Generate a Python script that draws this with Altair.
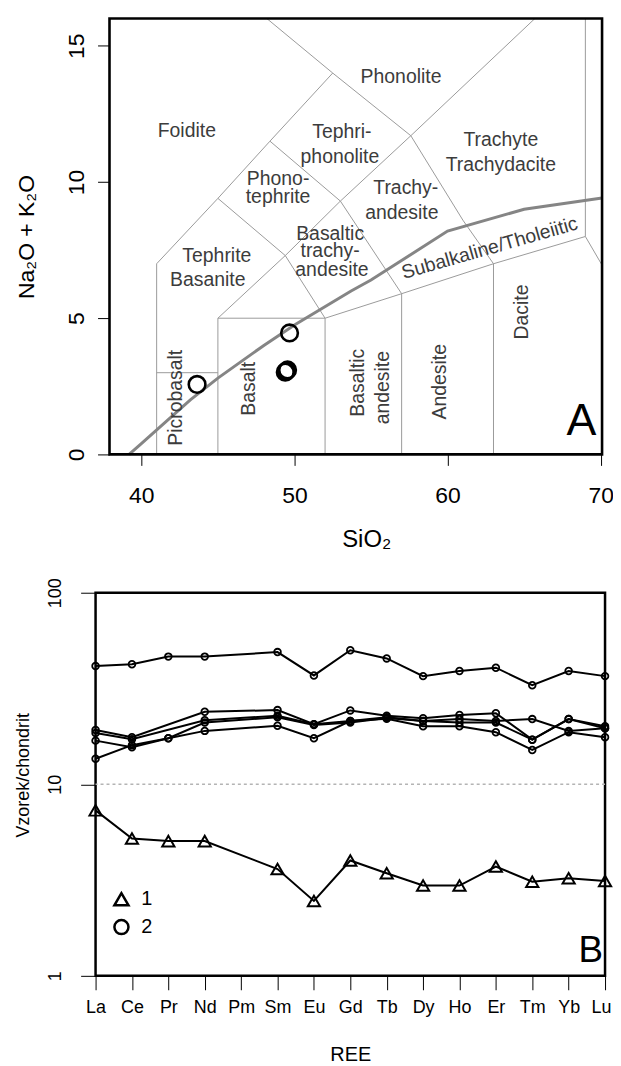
import altair as alt
import pandas as pd

FONT = "Liberation Sans"

# ---------------- Panel A : TAS diagram ----------------
tas_sio2 = [43.64, 49.68, 49.40, 49.55, 49.48]
tas_alk = [2.57, 4.46, 3.02, 3.10, 3.06]

# alkaline / subalkaline divide (thick grey curve)
divide_sio2 = [39.2, 40.0, 43.2, 45.0, 48.0, 50.0, 53.7, 55.0, 60.0, 65.0, 70.09]
divide_alk = [0.0, 0.4, 2.0, 2.8, 4.0, 4.75, 6.0, 6.4, 8.2, 9.0, 9.41]

# field boundaries (polylines, SiO2 / Na2O+K2O vertices)
field_lines = [
    [(41, 0), (41, 7), (45, 9.4), (48.4, 11.5), (52.5, 14), (48.2, 16)],
    [(41, 3), (45, 3)],
    [(45, 0), (45, 5), (52, 5), (52, 0)],
    [(45, 5), (49.4, 7.3), (53, 9.3), (57.6, 11.7), (65.7, 16)],
    [(45, 9.4), (49.4, 7.3), (52, 5)],
    [(48.4, 11.5), (53, 9.3), (57, 5.9), (57, 0)],
    [(52.5, 14), (57.6, 11.7), (61, 8.6), (63, 7), (63, 0)],
    [(52, 5), (57, 5.9), (63, 7), (69, 8), (69, 16)],
    [(69, 8), (70.09, 6.95)],
]

field_text = ["Phonolite", "Foidite", "Tephri-", "phonolite", "Trachyte", "Trachydacite",
              "Phono-", "tephrite", "Trachy-", "andesite", "Basaltic", "trachy-", "andesite",
              "Tephrite", "Basanite", "Subalkaline/Tholeiitic",
              "Picrobasalt", "Basalt", "Basaltic", "andesite", "Andesite", "Dacite"]
field_x = [56.96, 42.97, 53.10, 52.97, 63.48, 63.48, 48.93, 48.93, 57.27, 57.01, 52.33, 52.33,
           52.45, 44.93, 44.34, 62.75, 42.28, 47.05, 54.13, 55.80, 59.53, 64.89]
field_y = [13.87, 11.86, 11.84, 10.92, 11.53, 10.61, 10.10, 9.46, 9.79, 8.87, 8.08, 7.45,
           6.78, 7.30, 6.39, 7.57, 2.08, 2.41, 2.63, 2.45, 2.67, 5.23]
field_angle = [0] * 15 + [344] + [270] * 6

tas_x_domain = [37.92, 70.09]
tas_y_domain = [0, 16]
tas_x_ticks = [40, 50, 60, 70]
tas_y_ticks = [0, 5, 10, 15]
panel_a_text = ["A"]
panel_a_pos = [69.71, 0.72]

# ---------------- Panel B : REE spider diagram ----------------
ree = ["La", "Ce", "Pr", "Nd", "Pm", "Sm", "Eu", "Gd", "Tb", "Dy", "Ho", "Er", "Tm", "Yb", "Lu"]
ree_samples = ["1", "2a", "2b", "2c", "2d", "2e"]
ree_type = ["1", "2", "2", "2", "2", "2"]
ree_1 = [7.31, 5.21, 5.05, 5.05, None, 3.61, 2.46, 4.00, 3.43, 2.96, 2.96, 3.72, 3.10, 3.23, 3.13]
ree_2a = [41.4, 42.3, 46.4, 46.4, None, 49.0, 37.0, 50.1, 45.4, 36.7, 39.0, 40.6, 32.9, 39.0, 36.7]
ree_2b = [19.2, 17.6, None, 23.9, None, 24.4, 20.6, 24.3, 22.8, 22.1, 23.0, 23.5, 17.1, 21.9, 20.1]
ree_2c = [18.5, 17.2, None, 21.6, None, 22.8, 20.6, 21.4, 22.4, 21.4, 21.9, 21.4, 21.9, 19.0, 19.6]
ree_2d = [16.9, 15.6, 17.4, 21.0, None, 22.4, 20.4, 21.0, 22.2, 21.4, 21.0, 21.0, 17.1, 21.9, 19.6]
ree_2e = [13.6, 16.0, 17.4, 19.0, None, 20.2, 17.4, 21.4, 22.0, 20.1, 20.1, 18.7, 15.1, 18.7, 17.6]
ree_values = [ree_1, ree_2a, ree_2b, ree_2c, ree_2d, ree_2e]
ree_ticks = [1, 10, 100]
ref_level = [10]
panel_b_text = ["B"]
panel_b_pos = ["Lu", 1.18]

# ---------------- tables ----------------
pts_a = pd.DataFrame({"x": tas_sio2, "y": tas_alk})
divide_df = pd.DataFrame({"x": divide_sio2, "y": divide_alk, "i": range(len(divide_sio2))})
rows = []
for s, line in enumerate(field_lines):
    for i, (vx, vy) in enumerate(line):
        rows.append({"seg": s, "i": i, "x": vx, "y": vy})
fields_df = pd.DataFrame(rows)
labels_df = pd.DataFrame({"t": field_text, "x": field_x, "y": field_y, "a": field_angle})
frame_df = pd.DataFrame({"x": [tas_x_domain[0]], "x2": [tas_x_domain[1]],
                         "y": [tas_y_domain[0]], "y2": [tas_y_domain[1]]})
a_lab_df = pd.DataFrame({"t": panel_a_text, "x": [panel_a_pos[0]], "y": [panel_a_pos[1]]})

rrows = []
for name, typ, vals in zip(ree_samples, ree_type, ree_values):
    for i, (el, v) in enumerate(zip(ree, vals)):
        if v is not None:
            rrows.append({"sample": name, "type": typ, "ree": el, "i": i, "value": v})
ree_df = pd.DataFrame(rrows)
ref_df = pd.DataFrame({"value": ref_level})
b_lab_df = pd.DataFrame({"t": panel_b_text, "ree": [panel_b_pos[0]], "value": [panel_b_pos[1]]})

W = 512
A_H = 438
B_H = 385

# ---------------- Panel A chart ----------------
xa = alt.X("x:Q", scale=alt.Scale(domain=tas_x_domain, range=[14, 509], nice=False, zero=False),
           axis=alt.Axis(values=tas_x_ticks, tickSize=11, labelPadding=19, labelFontSize=23,
                         domain=False, grid=False, title="SiO₂", titleFontSize=24,
                         titleX=272, titleY=74, titleBaseline="top", titleAlign="center"))
ya = alt.Y("y:Q", scale=alt.Scale(domain=tas_y_domain, nice=False, zero=False),
           axis=alt.Axis(values=tas_y_ticks, offset=-14, tickSize=12, labelPadding=9,
                         labelFontSize=23, labelAngle=270, labelAlign="center",
                         labelBaseline="bottom", domain=False, grid=False,
                         title="Na₂O + K₂O", titleFontSize=23, titleX=-83, titleY=219,
                         titleBaseline="middle", titleAlign="center", titleAngle=270))

fields = alt.Chart(fields_df).mark_line(color="#9a9a9a", strokeWidth=1).encode(
    x=xa, y=ya, detail="seg:N", order="i:Q")
divide = alt.Chart(divide_df).mark_line(color="#858585", strokeWidth=3).encode(
    x=xa, y=ya, order="i:Q")
labels = alt.Chart(labels_df).mark_text(font=FONT, fontSize=19.5, color="#3c3c3c",
                                        align="center", baseline="middle").encode(
    x=xa, y=ya, text="t:N", angle=alt.Angle("a:Q", scale=None))
pts = alt.Chart(pts_a).mark_point(shape="circle", filled=False, color="black",
                                  strokeWidth=2.6, size=280, opacity=1).encode(x=xa, y=ya)
frame = alt.Chart(frame_df).mark_rect(fillOpacity=0, stroke="black", strokeWidth=2.6).encode(
    x=xa, x2="x2:Q", y=ya, y2="y2:Q")
a_lab = alt.Chart(a_lab_df).mark_text(font=FONT, fontSize=45, align="right",
                                      baseline="alphabetic", color="black").encode(
    x=xa, y=ya, text="t:N")

panel_a = alt.layer(fields, divide, labels, pts, frame, a_lab).properties(width=W, height=A_H)

# ---------------- Panel B chart ----------------
xb = alt.X("ree:O", scale=alt.Scale(domain=ree, type="point", padding=0),
           axis=alt.Axis(labelAngle=0, tickSize=14, labelPadding=9, labelFontSize=18,
                         labelOffset={"condition": {"test": "datum.label == 'Lu'", "value": -4},
                                      "value": 0},
                         domain=False, grid=False, title="REE", titleFontSize=20,
                         titleY=69, titleBaseline="top"))
yb = alt.Y("value:Q", scale=alt.Scale(type="log", domain=[1, 100], nice=False),
           axis=alt.Axis(values=ree_ticks, format="d", tickSize=15, labelPadding=16,
                         labelFontSize=18, labelAngle=270, labelAlign="center",
                         labelBaseline="bottom", domain=False, grid=False,
                         title="Vzorek/chondrit", titleFontSize=18, titleX=-72, titleY=183,
                         titleBaseline="middle", titleAlign="center", titleAngle=270))

shape_enc = alt.Shape(
    "type:N", scale=alt.Scale(domain=["1", "2"], range=["triangle-up", "circle"]),
    legend=alt.Legend(orient="none", legendX=16, legendY=298, title=None,
                      symbolSize=200, symbolStrokeWidth=2.5,
                      symbolStrokeColor="black", symbolFillColor="transparent",
                      labelFontSize=20, labelFont=FONT, labelColor="black",
                      labelOffset=10, rowPadding=3, padding=0))

ref = alt.Chart(ref_df).mark_rule(color="#b4b4b4", strokeDash=[3, 3], strokeWidth=1.5).encode(y=yb)
lines_b = alt.Chart(ree_df).mark_line(color="black", strokeWidth=2).encode(
    x=xb, y=yb, detail="sample:N", order="i:Q")
tri_b = alt.Chart(ree_df).transform_filter(alt.datum.type == "1").mark_point(
    filled=False, color="black", strokeWidth=2, size=150, opacity=1).encode(
    x=xb, y=yb, shape=shape_enc)
circ_b = alt.Chart(ree_df).transform_filter(alt.datum.type == "2").mark_point(
    filled=False, color="black", strokeWidth=1.8, size=45, opacity=1).encode(
    x=xb, y=yb, shape=shape_enc)
b_lab = alt.Chart(b_lab_df).mark_text(font=FONT, fontSize=37, align="right",
                                      baseline="alphabetic", dx=-2, color="black").encode(
    x=xb, y=yb, text="t:N")

panel_b = alt.layer(ref, lines_b, tri_b, circ_b, b_lab).properties(
    width=W, height=B_H, view=alt.ViewBackground(stroke="black", strokeWidth=2.5))

chart = alt.vconcat(panel_a, panel_b, spacing=23).properties(
    padding={"left": 5, "top": 5, "right": -4, "bottom": 0}
).resolve_scale(shape="independent").resolve_legend(shape="independent").configure_view(
    stroke="transparent"
).configure_axis(
    labelFont=FONT, titleFont=FONT, labelColor="black", titleColor="black",
    tickColor="black", titleFontWeight="normal"
)

chart.save("out.html", embed_options={"renderer": "svg", "actions": False})
